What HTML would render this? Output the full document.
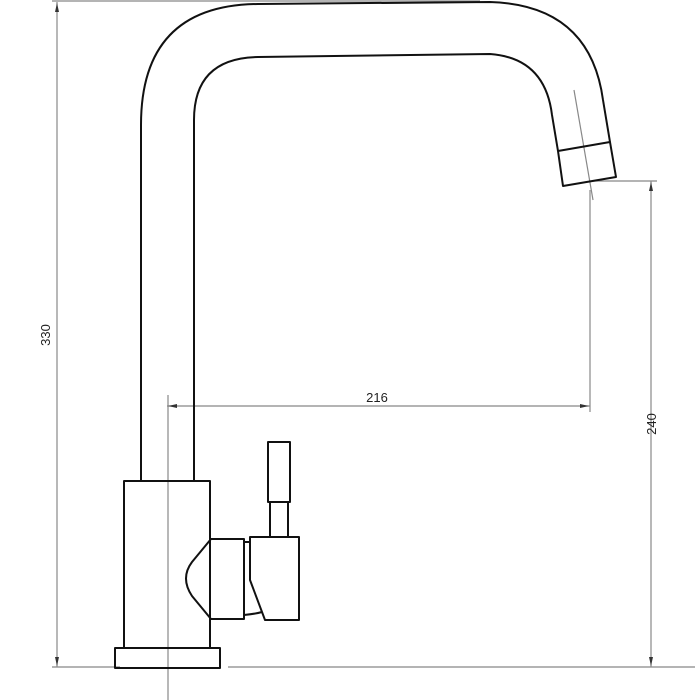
<!DOCTYPE html>
<html><head><style>body{margin:0;background:#fff}svg{display:block}</style></head><body>
<svg width="700" height="700" viewBox="0 0 700 700" xmlns="http://www.w3.org/2000/svg">
<g stroke="#888" stroke-width="1.2" fill="none">
<line x1="52" y1="1" x2="480" y2="1"/>
<line x1="57" y1="2" x2="57" y2="667"/>
<line x1="52" y1="667" x2="120" y2="667"/>
<line x1="228" y1="667" x2="695" y2="667"/>
<line x1="168" y1="395" x2="168" y2="700"/>
<line x1="167" y1="406" x2="590" y2="406"/>
<line x1="590" y1="190" x2="590" y2="412"/>
<line x1="593" y1="181" x2="657" y2="181"/>
<line x1="651" y1="181" x2="651" y2="667"/>
<line x1="574" y1="90" x2="593" y2="200"/>
</g>
<g fill="#333">
<polygon points="57,3 55,12 59,12"/>
<polygon points="57,666 55,657 59,657"/>
<polygon points="168,406 177,404 177,408"/>
<polygon points="589,406 580,404 580,408"/>
<polygon points="651,182 649,191 653,191"/>
<polygon points="651,666 649,657 653,657"/>
</g>
<g font-family="Liberation Sans, sans-serif" font-size="13" fill="#222">
<text x="377" y="402" text-anchor="middle">216</text>
<text transform="translate(50,335) rotate(-90)" text-anchor="middle">330</text>
<text transform="translate(656,424) rotate(-90)" text-anchor="middle">240</text>
</g>
<g stroke="#111" stroke-width="2" fill="none" stroke-linejoin="round">
<path d="M141,481 L141,125 Q141,5 258,4 L490,2 Q590,5 603,100 L610,142"/>
<path d="M194,481 L194,120 Q194,58 258,57 L490,54 Q545,58 552,115 L558,151"/>
<path d="M558,151 L610,142 L616,177 L563,186 Z"/>
<rect x="124" y="481" width="86" height="167"/>
<rect x="115" y="648" width="105" height="20"/>
<path d="M211,539 L244,539 L244,619 L211,619 L192,596 Q180,578 192,562 Z"/>
<path d="M244,542 L250,542 M244,615 Q255,614 262,612"/>
<path d="M250,537 L299,537 L299,620 L265,620 L250,580 Z"/>
<rect x="270" y="502" width="18" height="35"/>
<rect x="268" y="442" width="22" height="60"/>
</g>
</svg>
</body></html>
